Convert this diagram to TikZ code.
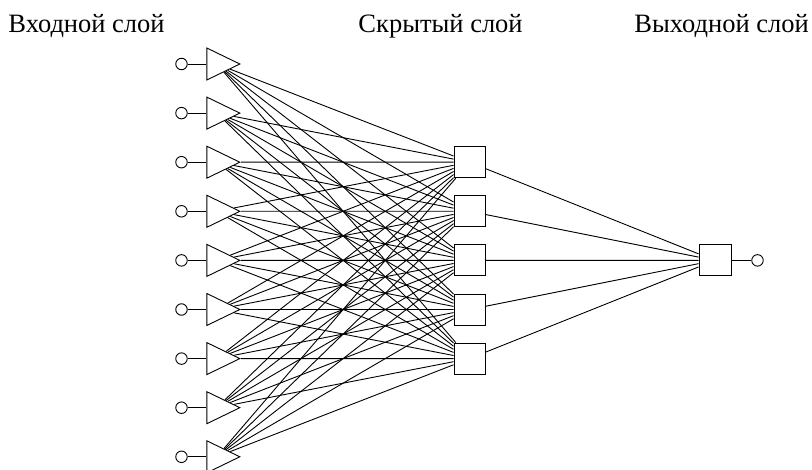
\documentclass[tikz,border=0pt]{standalone}
\usepackage{fontspec}
\setmainfont{Liberation Serif}
\usetikzlibrary{shapes.geometric}
\begin{document}
\begin{tikzpicture}[x=1pt,y=-1pt,line width=0.9pt,
  inunit/.style={isosceles triangle, isosceles triangle stretches,
    shape border rotate=0, minimum width=32pt, minimum height=33pt,
    inner sep=0pt, draw, anchor=apex},
  cell/.style={rectangle, draw, minimum size=31pt, inner sep=0pt},
  port/.style={circle, draw, minimum size=11.5pt, inner sep=0pt},
  layertitle/.style={anchor=base west, inner sep=0pt,
    font=\fontsize{26.5}{30}\selectfont}
]
\useasboundingbox (0,0) rectangle (812,470);

% layer captions
\node[layertitle] (t1) at (8,33) {Входной слой};
\node[layertitle] (t2) at (358,33) {Скрытый слой};
\node[layertitle] (t3) at (634,33) {Выходной слой};

% input layer: terminals and triangular units
\foreach \i in {1,...,9} {
  \pgfmathsetmacro\yy{64+49.1*(\i-1)}
  \node[inunit] (in\i) at (241,\yy) {};
  \node[port] (x\i) at (181.5,\yy) {};
  \draw (x\i) -- (in\i);
}

% hidden layer
\foreach \j in {1,...,5} {
  \pgfmathsetmacro\yy{162.2+49.1*(\j-1)}
  \node[cell] (h\j) at (469.5,\yy) {};
}

% output layer
\node[cell, minimum width=32pt] (out) at (715,260.4) {};
\node[port] (y) at (757.5,260.4) {};
\draw (out) -- (y);

% full connections
\foreach \i in {1,...,9}
  \foreach \j in {1,...,5}
    \draw (in\i) -- (h\j);
\foreach \j in {1,...,5}
  \draw (h\j) -- (out);
\end{tikzpicture}
\end{document}
